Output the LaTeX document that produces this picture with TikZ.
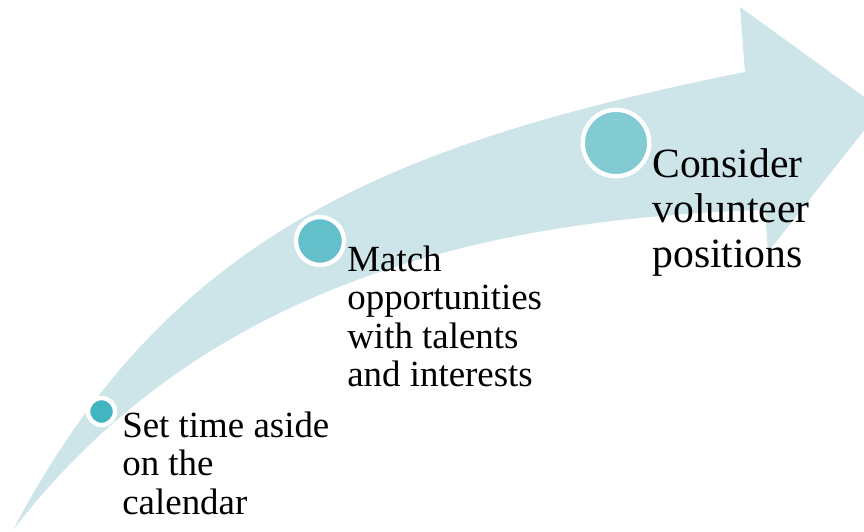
\documentclass[tikz,border=0pt]{standalone}
\usepackage{fontspec}
\setmainfont{Liberation Serif}
\definecolor{bandcol}{RGB}{205,228,233}
\definecolor{dotA}{RGB}{67,181,193}
\definecolor{dotB}{RGB}{99,191,201}
\definecolor{dotC}{RGB}{130,203,210}
\def\myring{2.5pt}
\newcommand{\mylines}[1]{\parbox[t]{6cm}{\raggedright #1}}
\tikzset{
my band/.style={fill=bandcol,draw=none},
my dot/.style={circle,draw=white,line width=\myring,inner sep=0pt},
small dot/.style={my dot,fill=dotA,minimum size=0.54cm},
medium dot/.style={my dot,fill=dotB,minimum size=0.96cm},
large dot/.style={my dot,fill=dotC,minimum size=1.33cm},
my label/.style={anchor=base west,inner sep=0pt},
small label/.style={my label,font={\fontsize{21}{21.8}\selectfont}},
large label/.style={my label,font={\fontsize{23.7}{25.7}\selectfont}},
}
\begin{document}
\begin{tikzpicture}[x=0.02cm,y=-0.02cm]
\clip (0,0) rectangle (864,531);
% curved band ending in the arrow head
\coordinate (tail) at (13,530);
\coordinate (neck top) at (745,72);
\coordinate (neck bottom) at (765,210);
\fill[my band] (tail) .. controls (166,240) and (380,145) .. (neck top)
  -- (740,7) -- (881,109) -- (768,252) -- (neck bottom)
  .. controls (465,219) and (196,293) .. (tail) -- cycle;

\node[small dot]  (d1) at (101.5,411.5) {};
\node[medium dot] (d2) at (320,241) {};
\node[large dot]  (d3) at (616,143) {};

\node[small label] (t1) at (122,437.5) {\mylines{Set time aside\\on the\\calendar}};
\node[small label] (t2) at (347,271.5) {\mylines{Match\\opportunities\\with talents\\and interests}};
\node[large label] (t3) at (652,177.3) {\mylines{Consider\\volunteer\\positions}};
\end{tikzpicture}
\end{document}
